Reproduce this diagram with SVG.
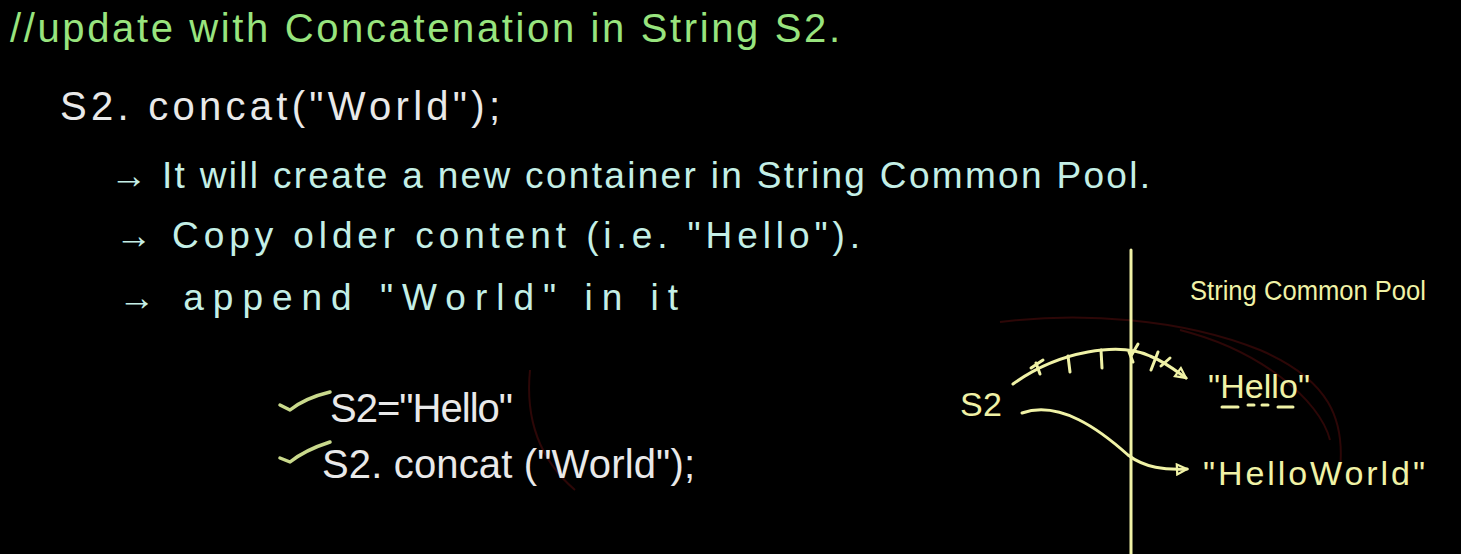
<svg xmlns="http://www.w3.org/2000/svg" width="1461" height="554" viewBox="0 0 1461 554">
<defs>
<style>
text{font-family:"Liberation Sans","DejaVu Sans",sans-serif;}
.g{fill:#98e47e;font-size:40px;}
.w{fill:#e9e9e9;font-size:40px;}
.c{fill:#c4efe6;font-size:37px;}
.y{fill:#f0f2a6;font-size:34px;}
.ys{fill:#f0f2a6;font-size:27px;}
.ln{fill:none;stroke:#f0f2a6;stroke-width:3;stroke-linecap:round;}
.chk{fill:none;stroke:#c9d98c;stroke-width:3.5;stroke-linecap:round;stroke-linejoin:round;}
.red{fill:none;stroke:#5a0d0d;stroke-width:2;opacity:0.5;}
</style>
<marker id="ah" viewBox="0 0 14 14" refX="12" refY="7" markerWidth="14" markerHeight="14" markerUnits="userSpaceOnUse" orient="auto">
<path d="M2,2 L12,7 L2,12 Z" fill="none" stroke="#f0f2a6" stroke-width="2.2"/>
</marker>
</defs>
<rect width="1461" height="554" fill="#000"/>
<g id="faint">
<path class="red" d="M1000,322 C1080,312 1180,318 1260,350 C1330,380 1345,420 1340,470"/>
<path class="red" d="M1180,330 C1260,350 1320,400 1330,440"/>
<path class="red" d="M530,370 C525,420 540,460 575,490"/>
</g>
<g id="title"><text class="g" x="10" y="42" textLength="830" lengthAdjust="spacing">//update with Concatenation in String S2.</text></g>
<g id="code"><text class="w" x="60" y="120" textLength="440" lengthAdjust="spacing">S2. concat("World");</text></g>
<g id="bullet1"><text class="c" x="110" y="188" textLength="1040" lengthAdjust="spacing">→ It will create a new container in String Common Pool.</text></g>
<g id="bullet2"><text class="c" x="115" y="248" textLength="745" lengthAdjust="spacing">→ Copy older content (i.e. "Hello").</text></g>
<g id="bullet3"><text class="c" x="118" y="310" textLength="560" lengthAdjust="spacing">→ append "World" in it</text></g>
<g id="step1">
<path class="chk" d="M280,405 L290,410 Q305,398 330,392"/>
<text class="w" x="330" y="422" textLength="183" lengthAdjust="spacing">S2="Hello"</text>
</g>
<g id="step2">
<path class="chk" d="M280,458 L290,462 Q305,450 330,442"/>
<text class="w" x="322" y="478" textLength="373" lengthAdjust="spacing">S2. concat ("World");</text>
</g>
<g id="divider"><line class="ln" x1="1131" y1="250" x2="1131" y2="554"/></g>
<g id="pool-label"><text class="ys" x="1190" y="300" textLength="236" lengthAdjust="spacingAndGlyphs">String Common Pool</text></g>
<g id="s2"><text class="y" x="960" y="416" textLength="42" lengthAdjust="spacing">S2</text></g>
<g id="hello">
<text class="y" x="1208" y="398" textLength="102" lengthAdjust="spacing">"Hello"</text>
<path class="ln" d="M1222,407 L1238,407 M1248,405 L1254,405 M1262,405 L1268,405 M1278,407 L1293,407" stroke-width="2.5"/>
</g>
<g id="helloworld"><text class="y" x="1203" y="485" textLength="222" lengthAdjust="spacing">"HelloWorld"</text></g>
<g id="connectors">
<path class="ln" d="M1013,384 C1060,350 1120,342 1150,356 C1165,362 1175,370 1186,378" marker-end="url(#ah)"/>
<path class="ln" d="M1036,363 L1040,374 M1031,368 L1043,360 M1068,356 L1070,372 M1101,350 L1102,368 M1129,352 L1133,362 M1131,356 L1138,344 M1151,370 L1158,352 M1161,366 L1170,358"/>
<path class="ln" d="M1022,413 C1060,400 1100,430 1128,455 C1145,468 1165,470 1187,469" marker-end="url(#ah)"/>
</g>
</svg>
